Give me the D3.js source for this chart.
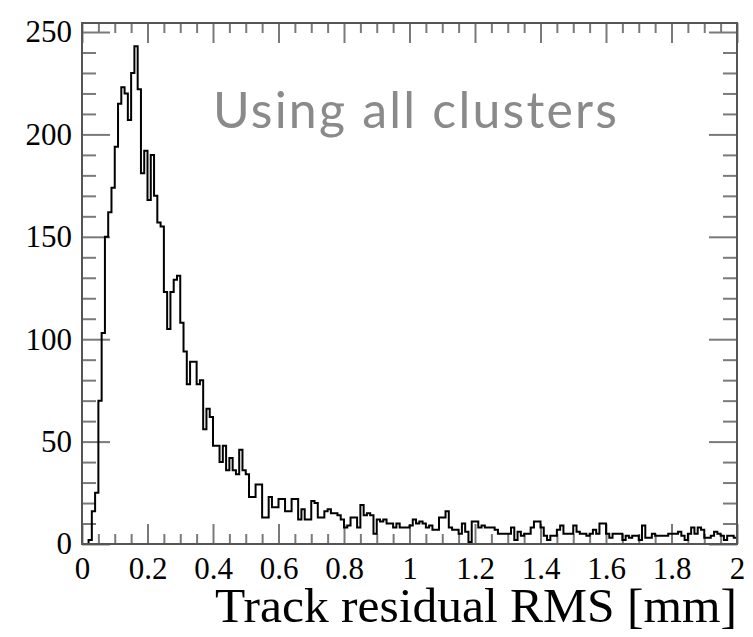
<!DOCTYPE html>
<html>
<head>
<meta charset="utf-8">
<script src="https://cdn.jsdelivr.net/npm/d3@7"></script>
<style>
    body { margin: 0; background: #fff; }
    svg { display: block; }
</style>
</head>
<body>
<script>
// Histogram of track residual RMS, 200 bins of 0.01 mm from 0 to 2.
var counts = [
    0, 0, 2, 16, 25, 70, 103, 150, 162, 174,
    194, 215, 223, 220, 207, 230, 243, 222, 181, 192,
    168, 190, 170, 157, 155, 123, 105, 123, 129, 131,
    108, 94, 78, 89, 89, 78, 80, 56, 66, 62,
    48, 48, 40, 48, 36, 42, 36, 34, 46, 36,
    34, 23, 23, 29, 29, 13, 13, 23, 18, 18,
    22, 22, 16, 16, 22, 22, 12, 17, 12, 12,
    21, 20, 13, 13, 16, 17, 15, 15, 14, 12,
    8, 9, 13, 13, 8, 19, 14, 15, 14, 5,
    12, 11, 12, 10, 10, 8, 10, 8, 8, 8,
    9, 12, 10, 11, 10, 8, 9, 7, 7, 13,
    13, 16, 8, 7, 7, 5, 10, 6, 1, 11,
    11, 8, 9, 8, 8, 8, 7, 5, 5, 5,
    5, 8, 2, 6, 4, 5, 5, 8, 11, 11,
    8, 4, 2, 4, 4, 7, 9, 5, 5, 5,
    9, 6, 5, 5, 4, 5, 7, 5, 10, 10,
    5, 3, 5, 5, 5, 2, 4, 3, 4, 4,
    2, 9, 3, 3, 5, 4, 4, 4, 4, 5,
    5, 5, 6, 4, 2, 5, 8, 5, 8, 7,
    3, 3, 4, 6, 5, 4, 2, 4, 4, 3
];
var binWidth = 0.01;

var xTicks = [0, 0.2, 0.4, 0.6, 0.8, 1, 1.2, 1.4, 1.6, 1.8, 2];
var xTickLabels = ["0", "0.2", "0.4", "0.6", "0.8", "1",
                   "1.2", "1.4", "1.6", "1.8", "2"];
var yTicks = [0, 50, 100, 150, 200, 250];
var yTickLabels = ["0", "50", "100", "150", "200", "250"];

var xTitle = "Track residual RMS [mm]";
var note = "Using all clusters";

// frame in page pixels (window.top is reserved, so use a margin object)
var W = 753, H = 637;
var frame = {left: 82, right: 737, top: 23, bottom: 544};

var svg = d3.select("body").append("svg")
    .attr("width", W)
    .attr("height", H);

var x = d3.scaleLinear().domain([0, 2]).range([frame.left, frame.right]);
var y = d3.scaleLinear().domain([0, 254.4])
    .range([frame.bottom, frame.top]);

// minor tick positions: every 0.05 on x, every 10 on y
var xMinor = d3.range(0, 2.0001, 0.05).filter(function(v) {
    return Math.abs(v * 5 - Math.round(v * 5)) > 1e-6;
});
var yMinor = d3.range(0, 254, 10).filter(function(v) { return v % 50 !== 0; });

var tickColor = "#7a7a7a";

function styleAxis(g) {
    g.select(".domain").remove();
    g.selectAll(".tick line")
        .attr("stroke", tickColor)
        .attr("stroke-width", 2);
    g.selectAll(".tick text")
        .attr("fill", "#000")
        .style("font-family", "'Liberation Serif', 'Times New Roman', serif")
        .style("font-size", "31px");
}

// bottom axis, ticks pointing inward like ROOT
svg.append("g")
    .attr("transform", "translate(0," + frame.bottom + ")")
    .call(d3.axisBottom(x).tickValues(xMinor).tickSize(-10)
        .tickSizeOuter(0).tickFormat(""))
    .call(styleAxis);
svg.append("g")
    .attr("transform", "translate(0," + frame.bottom + ")")
    .call(d3.axisBottom(x).tickValues(xTicks).tickSize(-20)
        .tickSizeOuter(0).tickPadding(13)
        .tickFormat(function(d, i) { return xTickLabels[i]; }))
    .call(styleAxis);

// top axis, no labels
svg.append("g")
    .attr("transform", "translate(0," + frame.top + ")")
    .call(d3.axisTop(x).tickValues(xMinor).tickSize(-10)
        .tickSizeOuter(0).tickFormat(""))
    .call(styleAxis);
svg.append("g")
    .attr("transform", "translate(0," + frame.top + ")")
    .call(d3.axisTop(x).tickValues(xTicks).tickSize(-20)
        .tickSizeOuter(0).tickFormat(""))
    .call(styleAxis);

// left axis
svg.append("g")
    .attr("transform", "translate(" + frame.left + ",0)")
    .call(d3.axisLeft(y).tickValues(yMinor).tickSize(-14)
        .tickSizeOuter(0).tickFormat(""))
    .call(styleAxis);
svg.append("g")
    .attr("transform", "translate(" + frame.left + ",0)")
    .call(d3.axisLeft(y).tickValues(yTicks).tickSize(-28)
        .tickSizeOuter(0).tickPadding(10)
        .tickFormat(function(d, i) { return yTickLabels[i]; }))
    .call(styleAxis);

// right axis, no labels
svg.append("g")
    .attr("transform", "translate(" + frame.right + ",0)")
    .call(d3.axisRight(y).tickValues(yMinor).tickSize(-14)
        .tickSizeOuter(0).tickFormat(""))
    .call(styleAxis);
svg.append("g")
    .attr("transform", "translate(" + frame.right + ",0)")
    .call(d3.axisRight(y).tickValues(yTicks).tickSize(-28)
        .tickSizeOuter(0).tickFormat(""))
    .call(styleAxis);

// histogram outline as a step line
var pts = [[0, 0]];
counts.forEach(function(c, i) { pts.push([i * binWidth, c]); });
pts.push([counts.length * binWidth, counts[counts.length - 1]]);

var line = d3.line()
    .x(function(d) { return x(d[0]); })
    .y(function(d) { return y(d[1]); })
    .curve(d3.curveStepAfter);

svg.append("path")
    .datum(pts)
    .attr("d", line)
    .attr("fill", "none")
    .attr("stroke", "#000")
    .attr("stroke-width", 2);

// frame
svg.append("rect")
    .attr("x", frame.left)
    .attr("y", frame.top)
    .attr("width", frame.right - frame.left)
    .attr("height", frame.bottom - frame.top)
    .attr("fill", "none")
    .attr("stroke", "#555")
    .attr("stroke-width", 2);

// axis title
svg.append("text")
    .attr("x", frame.right)
    .attr("y", 622)
    .attr("text-anchor", "end")
    .style("font-family", "'Liberation Serif', 'Times New Roman', serif")
    .style("font-size", "49.5px")
    .attr("fill", "#000")
    .text(xTitle);

// annotation
svg.append("text")
    .attr("x", 213)
    .attr("y", 128)
    .attr("textLength", 404)
    .attr("lengthAdjust", "spacing")
    .style("font-family", "Lato, 'Open Sans', sans-serif")
    .style("font-size", "50px")
    .attr("fill", "#8a8a8a")
    .text(note);
</script>
</body>
</html>
